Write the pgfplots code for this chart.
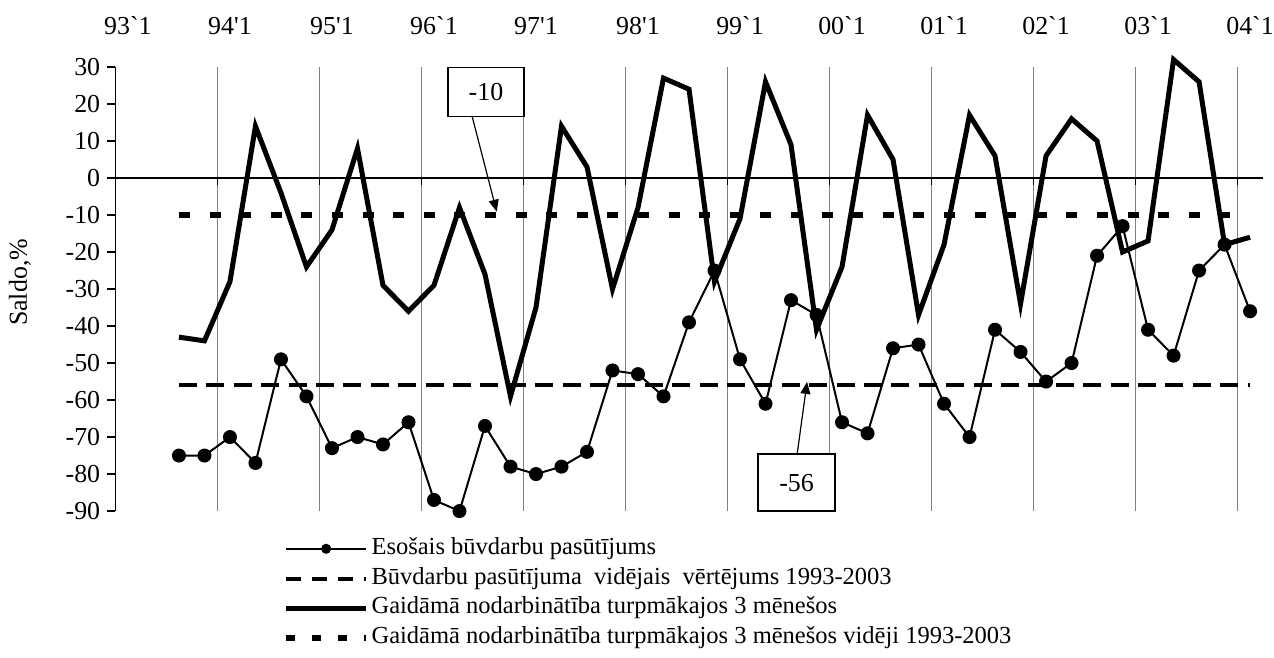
\documentclass[border=0pt]{standalone}
\usepackage{fontspec}
\setmainfont{Liberation Serif}
\newfontfamily\tnr{Liberation Serif}
\usepackage{pgfplots}
\usepackage{pgfplotstable}
\pgfplotsset{compat=1.18}
\usetikzlibrary{arrows.meta}

% quarter index: 0 = 1993 Q1
\pgfplotstableread{
q   esos  gaid
2   -75   -43
3   -75   -44
4   -70   -28
5   -77    14
6   -49    -4
7   -59   -24
8   -73   -14
9   -70     8
10  -72   -29
11  -66   -36
12  -87   -29
13  -90    -8
14  -67   -26
15  -78   -59
16  -80   -35
17  -78    14
18  -74     3
19  -52   -30
20  -53    -8
21  -59    27
22  -39    24
23  -25   -28
24  -49   -11
25  -61    26
26  -33     9
27  -37   -41
28  -66   -24
29  -69    17
30  -46     5
31  -45   -37
32  -61   -18
33  -70    17
34  -41     6
35  -47   -34
36  -55     6
37  -50    16
38  -21    10
39  -13   -20
40  -41   -17
41  -48    32
42  -25    26
43  -18   -18
44  -36   -16
}\saldo

\begin{document}
\begin{tikzpicture}
\begin{axis}[
  name=ax,
  scale only axis,
  width=573.75bp, height=222bp,
  xmin=-0.5, xmax=44.5, ymin=-90, ymax=30,
  clip=false,
  axis y line*=left,
  axis x line*=top,
  x axis line style={draw=none},
  y axis line style={line width=0.6bp, black},
  tick align=outside,
  major tick length=4bp,
  ytick={-90,-80,...,30},
  yticklabels={-90,-80,-70,-60,-50,-40,-30,-20,-10,0,10,20,30},
  ytick style={line width=0.6bp, black},
  xtick={0,4,...,44},
  xticklabels={93`1,94'1,95'1,96`1,97'1,98'1,99`1,00`1,01`1,02`1,03`1,04`1},
  xtick style={draw=none},
  xticklabel style={yshift=8.5bp},
  extra x ticks={3.5,7.5,...,43.5},
  extra x tick labels={},
  extra x tick style={grid=major, major tick length=0pt},
  major grid style={gray, line width=0.5bp},
  tick label style={font=\tnr\fontsize{13}{15}\selectfont},
  ylabel={Saldo,\%},
  ylabel style={at={(axis description cs:-0.083,0.515)}, anchor=center, font=\fontsize{13}{15}\selectfont},
  legend style={at={(axis description cs:0.146,-0.055)}, anchor=north west,
    draw=none, fill=none, inner sep=0pt, row sep=2bp,
    font=\fontsize{12.3}{14}\selectfont,
    nodes={inner sep=1.2bp, text height=8bp, text depth=2.5bp}},
  legend cell align=left,
  legend image code/.code={\draw[mark repeat=2,mark phase=2,#1] plot coordinates {(0bp,0bp) (20bp,0bp) (40bp,0bp)};},
]
\draw[black, line width=0.6bp] (axis cs:-0.5,0) -- (axis cs:44.5,0);
\pgfplotsinvokeforeach{3.5,7.5,11.5,15.5,19.5,23.5,27.5,31.5,35.5,39.5,43.5}{
  \draw[black, line width=0.6bp] (axis cs:#1,0) -- ([yshift=-3.5bp]axis cs:#1,0);}

\addplot[forget plot, black, line width=2bp, dash pattern=on 9bp off 4.7bp] coordinates {(2,-56) (44,-56)};
\addplot[forget plot, black, line width=3bp, dash pattern=on 5.5bp off 9.8bp] coordinates {(2,-10) (43.3,-10)};
\addplot[forget plot, black, line width=1bp, mark=*, mark size=3bp] table[x=q, y=esos] {\saldo};
\addplot[forget plot, black, line width=2.5bp] table[x=q, y=gaid] {\saldo};

\addlegendimage{black, line width=1bp, mark=*, mark size=2bp}
\addlegendentry{Esošais būvdarbu pasūtījums}
\addlegendimage{black, line width=2bp, dash pattern=on 7.5bp off 5.5bp}
\addlegendentry{Būvdarbu pasūtījuma\ \ vidējais\ \ vērtējums 1993-2003}
\addlegendimage{black, line width=2.5bp}
\addlegendentry{Gaidāmā nodarbinātība turpmākajos 3 mēnešos}
\addlegendimage{black, line width=3bp, dash pattern=on 4.5bp off 8.5bp}
\addlegendentry{Gaidāmā nodarbinātība turpmākajos 3 mēnešos vidēji 1993-2003}

\node[draw, line width=0.8bp, fill=white, minimum width=38bp, minimum height=24.5bp, inner sep=0pt,
  font=\fontsize{13}{15}\selectfont] at (axis cs:14.04,23.2) {-10};
\draw[line width=0.6bp, -{Triangle[length=6bp,width=5bp]}] (axis cs:13.49,16.8) -- (axis cs:14.46,-9.1);
\node[draw, line width=0.8bp, fill=white, minimum width=38.5bp, minimum height=28.5bp, inner sep=0pt,
  font=\fontsize{13}{15}\selectfont] at (axis cs:26.22,-82.3) {-56};
\draw[line width=0.6bp, -{Triangle[length=6bp,width=5bp]}] (axis cs:26.24,-74.6) -- (axis cs:26.63,-55.1);
\end{axis}
\pgfresetboundingbox
\path ([shift={(-57.6bp,-73bp)}]ax.south west) rectangle ([shift={(5.6bp,33.5bp)}]ax.north east);
\end{tikzpicture}
\end{document}
